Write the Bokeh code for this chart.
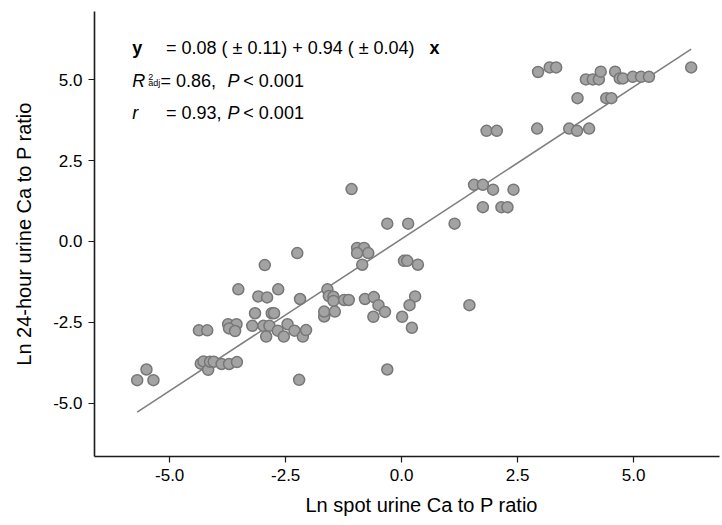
from bokeh.plotting import figure
from bokeh.models import Range1d, FixedTicker, PrintfTickFormatter, Label, Title
from bokeh.embed import file_html
from bokeh.resources import INLINE

# Ln spot urine Ca:P ratio (x) and Ln 24-hour urine Ca:P ratio (y)
spot_ln = [-5.70, -5.50, -5.35, -4.37, -4.19, -4.33, -4.27, -4.17, -4.13, -4.05,
           -3.88, -3.72, -3.55, -3.74, -3.56, -3.72, -3.59, -3.52, -3.22, -3.16,
           -3.09, -2.90, -2.95, -2.98, -2.92, -2.85, -2.80, -2.75, -2.66, -2.67,
           -2.54, -2.46, -2.31, -2.19, -2.21, -2.13, -2.06, -2.25, -1.67, -1.67,
           -1.60, -1.57, -1.47, -1.47, -1.44, -1.24, -1.14, -1.08, -0.96, -0.81,
           -0.96, -0.72, -0.85, -0.79, -0.60, -0.50, -0.36, -0.61, 0.01, 0.29,
           0.17, 0.22, -0.31, -0.31, 0.14, 0.05, 0.12, 0.35, 1.14, 1.46,
           1.56, 1.75, 1.97, 2.41, 1.75, 2.15, 2.28, 1.83, 2.05, 2.92,
           3.61, 3.78, 4.04, 3.79, 4.41, 4.52, 2.94, 3.19, 3.33, 3.97,
           4.12, 4.25, 4.29, 4.60, 4.70, 4.77, 4.98, 5.16, 5.33, 6.24]
h24_ln = [-4.29, -3.96, -4.29, -2.75, -2.75, -3.78, -3.71, -3.97, -3.72, -3.72,
          -3.79, -3.79, -3.73, -2.56, -2.56, -2.69, -2.77, -1.48, -2.61, -2.22,
          -1.70, -1.73, -0.73, -2.61, -2.94, -2.61, -2.22, -2.22, -1.48, -2.76,
          -2.94, -2.56, -2.76, -1.78, -4.28, -2.94, -2.74, -0.36, -2.32, -2.17,
          -1.48, -1.69, -1.71, -1.84, -2.17, -1.81, -1.81, 1.62, -0.20, -0.20,
          -0.36, -0.36, -0.72, -1.78, -1.72, -1.97, -2.18, -2.33, -2.33, -1.70,
          -1.97, -2.67, -3.96, 0.55, 0.55, -0.60, -0.60, -0.72, 0.55, -1.97,
          1.75, 1.75, 1.60, 1.60, 1.06, 1.06, 1.06, 3.42, 3.42, 3.49,
          3.49, 3.42, 3.49, 4.43, 4.43, 4.43, 5.24, 5.38, 5.38, 5.01,
          5.01, 5.01, 5.25, 5.25, 5.04, 5.04, 5.09, 5.09, 5.09, 5.38]

intercept = 0.08
slope = 0.94
x_ticks = [-5.0, -2.5, 0.0, 2.5, 5.0]
y_ticks = [-5.0, -2.5, 0.0, 2.5, 5.0]
x_title = "Ln spot urine Ca to P ratio"
y_title = "Ln 24-hour urine Ca to P ratio"

FONT = "Liberation Sans"

p = figure(width=720, height=524, output_backend="svg", toolbar_location=None,
           x_range=Range1d(-6.62, 6.85), y_range=Range1d(-6.65, 7.11),
           min_border_left=94, min_border_right=1, min_border_top=11,
           min_border_bottom=67)
p.outline_line_color = None
p.grid.visible = False
p.background_fill_color = "white"
p.border_fill_color = "white"

for ax in (p.xaxis[0], p.yaxis[0]):
    ax.axis_line_color = "#1a1a1a"
    ax.axis_line_width = 1.6
    ax.major_tick_line_color = "#1a1a1a"
    ax.major_tick_line_width = 1.2
    ax.major_tick_out = 6
    ax.major_tick_in = 0
    ax.minor_tick_line_color = None
    ax.major_label_text_font = FONT
    ax.major_label_text_font_size = "17px"
    ax.major_label_text_color = "black"
    ax.major_label_standoff = 6
    ax.formatter = PrintfTickFormatter(format="%.1f")

p.xaxis[0].ticker = FixedTicker(ticks=x_ticks)
p.yaxis[0].ticker = FixedTicker(ticks=y_ticks)

p.yaxis[0].axis_label = y_title
p.yaxis[0].axis_label_text_font = FONT
p.yaxis[0].axis_label_text_font_size = "20px"
p.yaxis[0].axis_label_text_font_style = "normal"
p.yaxis[0].axis_label_text_color = "black"
p.yaxis[0].axis_label_standoff = 15

# x-axis title (sits slightly right of the frame centre, as in the original)
p.add_layout(Title(text=x_title, align="left", offset=211,
                   text_font=FONT, text_font_size="20px", text_font_style="normal",
                   text_color="black", standoff=17), "below")

# regression line
line_x = [min(spot_ln), max(spot_ln)]
line_y = [intercept + slope * v for v in line_x]
p.line(line_x, line_y, line_color="#808080", line_width=1.6)

p.scatter(spot_ln, h24_ln, size=11, fill_color="#a3a3a3", line_color="#777777",
          line_width=1.5)


def lab(x, y, text, size="18px", style="normal"):
    p.add_layout(Label(x=x, y=y, text=text, text_font=FONT, text_font_size=size,
                       text_font_style=style, text_color="black",
                       text_baseline="alphabetic", text_align="left"))


# line 1
lab(-5.806, 5.98, "y", style="bold")
lab(-5.078, 5.98, "= 0.08 ( \u00b1 0.11) + 0.94 ( \u00b1 0.04)")
lab(0.60, 5.98, "x", style="bold")
# line 2
lab(-5.806, 4.97, "R", style="italic")
lab(-5.46, 5.10, "2", size="9px")
lab(-5.46, 4.90, "adj", size="9px")
lab(-5.200, 4.97, "= %.2f," % 0.86)
lab(-3.756, 4.97, "P", style="italic")
lab(-3.412, 4.97, "< 0.001")
# line 3
lab(-5.806, 3.97, "r", style="italic")
lab(-5.078, 3.97, "= %.2f," % 0.93)
lab(-3.756, 3.97, "P", style="italic")
lab(-3.412, 3.97, "< 0.001")

open("out.html", "w").write(file_html(p, INLINE))
